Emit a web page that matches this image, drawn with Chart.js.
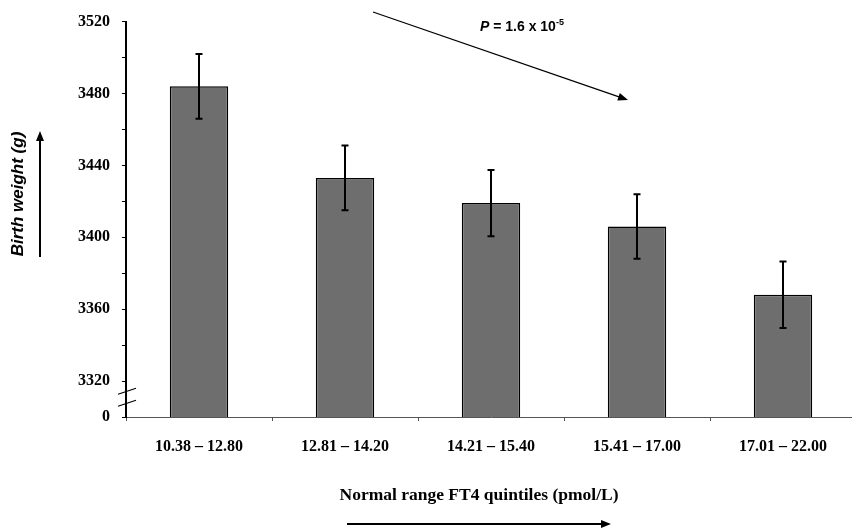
<!DOCTYPE html>
<html>
<head>
<meta charset="utf-8">
<script src="https://cdn.jsdelivr.net/npm/chart.js@4.4.0/dist/chart.umd.min.js"></script>
<style>
  html, body { margin: 0; padding: 0; overflow: hidden; background: #fff; }
  canvas { display: block; }
</style>
</head>
<body>
<canvas id="bw" width="856" height="532"></canvas>
<script>
// quintiles of FT4 and mean birth weight with error
const quintiles = ["10.38 \u2013 12.80", "12.81 \u2013 14.20", "14.21 \u2013 15.40", "15.41 \u2013 17.00", "17.01 \u2013 22.00"];
const birthWeight = [3484, 3433, 3419, 3406, 3368];
const errWeight = [18, 18, 18.5, 18, 18.5];

// y axis: broken scale, bottom shown as 0
const yMin = 3300;
const yMax = 3520;
const yStep = 20;

const serifBold = { family: '"Times New Roman", "Liberation Serif", serif', size: 16, weight: 'bold' };

// error bars + break marks + annotations
const extras = {
  id: 'extras',
  afterDatasetsDraw(chart) {
    const ctx = chart.ctx;
    const y = chart.scales.y;
    const meta = chart.getDatasetMeta(0);
    ctx.save();
    ctx.strokeStyle = '#000';
    ctx.lineWidth = 2;
    meta.data.forEach((bar, i) => {
      const hi = y.getPixelForValue(birthWeight[i] + errWeight[i]);
      const lo = y.getPixelForValue(birthWeight[i] - errWeight[i]);
      ctx.beginPath();
      ctx.moveTo(bar.x, hi); ctx.lineTo(bar.x, lo);
      ctx.moveTo(bar.x - 3.5, hi); ctx.lineTo(bar.x + 3.5, hi);
      ctx.moveTo(bar.x - 3.5, lo); ctx.lineTo(bar.x + 3.5, lo);
      ctx.stroke();
    });
    ctx.restore();
  },
  afterDraw(chart) {
    const ctx = chart.ctx;
    const y = chart.scales.y;
    const ax = chart.chartArea.left;
    ctx.save();
    // axis break
    ctx.strokeStyle = '#000';
    ctx.lineWidth = 1.2;
    const b = y.getPixelForValue(3311);
    [-6, 6].forEach(d => {
      ctx.beginPath();
      ctx.moveTo(ax - 8, b + d + 3);
      ctx.lineTo(ax + 10, b + d - 3);
      ctx.stroke();
    });

    function arrow(x1, y1, x2, y2, w) {
      const a = Math.atan2(y2 - y1, x2 - x1);
      ctx.lineWidth = w;
      ctx.beginPath();
      ctx.moveTo(x1, y1);
      ctx.lineTo(x2 - 8 * Math.cos(a), y2 - 8 * Math.sin(a));
      ctx.stroke();
      ctx.beginPath();
      ctx.moveTo(x2, y2);
      ctx.lineTo(x2 - 10 * Math.cos(a) + 4 * Math.sin(a), y2 - 10 * Math.sin(a) - 4 * Math.cos(a));
      ctx.lineTo(x2 - 10 * Math.cos(a) - 4 * Math.sin(a), y2 - 10 * Math.sin(a) + 4 * Math.cos(a));
      ctx.closePath();
      ctx.fill();
    }
    ctx.fillStyle = '#000';

    // y title + arrow
    ctx.save();
    ctx.translate(18, 194);
    ctx.rotate(-Math.PI / 2);
    ctx.font = 'italic bold 17px Arial, "Liberation Sans", sans-serif';
    ctx.textAlign = 'center';
    ctx.textBaseline = 'middle';
    ctx.fillText('Birth weight (g)', 0, 0);
    ctx.restore();
    arrow(40, 257, 40, 131, 2);

    // x title + arrow
    ctx.font = 'bold 17.5px "Times New Roman", "Liberation Serif", serif';
    ctx.textAlign = 'center';
    ctx.textBaseline = 'middle';
    ctx.fillText('Normal range FT4 quintiles (pmol/L)', 479, 495);
    arrow(347, 524, 611, 524, 2);

    // trend annotation
    arrow(373, 12, 628, 100, 1.3);
    ctx.textAlign = 'left';
    ctx.textBaseline = 'alphabetic';
    let x = 480;
    ctx.font = 'italic bold 14px Arial, "Liberation Sans", sans-serif';
    ctx.fillText('P', x, 31);
    x += ctx.measureText('P').width;
    ctx.font = 'bold 14px Arial, "Liberation Sans", sans-serif';
    const t = ' = 1.6 x 10';
    ctx.fillText(t, x, 31);
    x += ctx.measureText(t).width;
    ctx.font = 'bold 9px Arial, "Liberation Sans", sans-serif';
    ctx.fillText('-5', x, 25);
    ctx.restore();
  }
};

new Chart('bw', {
  type: 'bar',
  data: {
    labels: quintiles,
    datasets: [{
      data: birthWeight,
      backgroundColor: '#6e6e6e',
      borderColor: '#000',
      borderWidth: { top: 1.5, left: 1.5, right: 1.5, bottom: 3 },
      borderSkipped: false,
      barPercentage: 0.4,
      categoryPercentage: 1.0
    }]
  },
  options: {
    responsive: false,
    animation: false,
    layout: { padding: { top: 15, left: 0, right: 0, bottom: 0 } },
    plugins: { legend: { display: false }, tooltip: { enabled: false } },
    scales: {
      x: {
        grid: { display: true, drawOnChartArea: false, offset: true, tickLength: 4, color: '#555' },
        border: { color: '#555', width: 1 },
        ticks: { color: '#000', font: serifBold, padding: 16, maxRotation: 0 },
        afterFit(scale) { scale.height = 115; }
      },
      y: {
        min: yMin,
        max: yMax,
        grid: { display: true, drawOnChartArea: false, tickLength: 4, color: '#000' },
        border: { color: '#000', width: 2 },
        ticks: {
          stepSize: yStep,
          color: '#000',
          font: serifBold,
          padding: 12,
          callback: v => v === yMin ? '0' : (v % 40 === 0 ? String(v) : '')
        },
        afterFit(scale) { scale.width = 126; }
      }
    }
  },
  plugins: [extras]
});
</script>
</body>
</html>
